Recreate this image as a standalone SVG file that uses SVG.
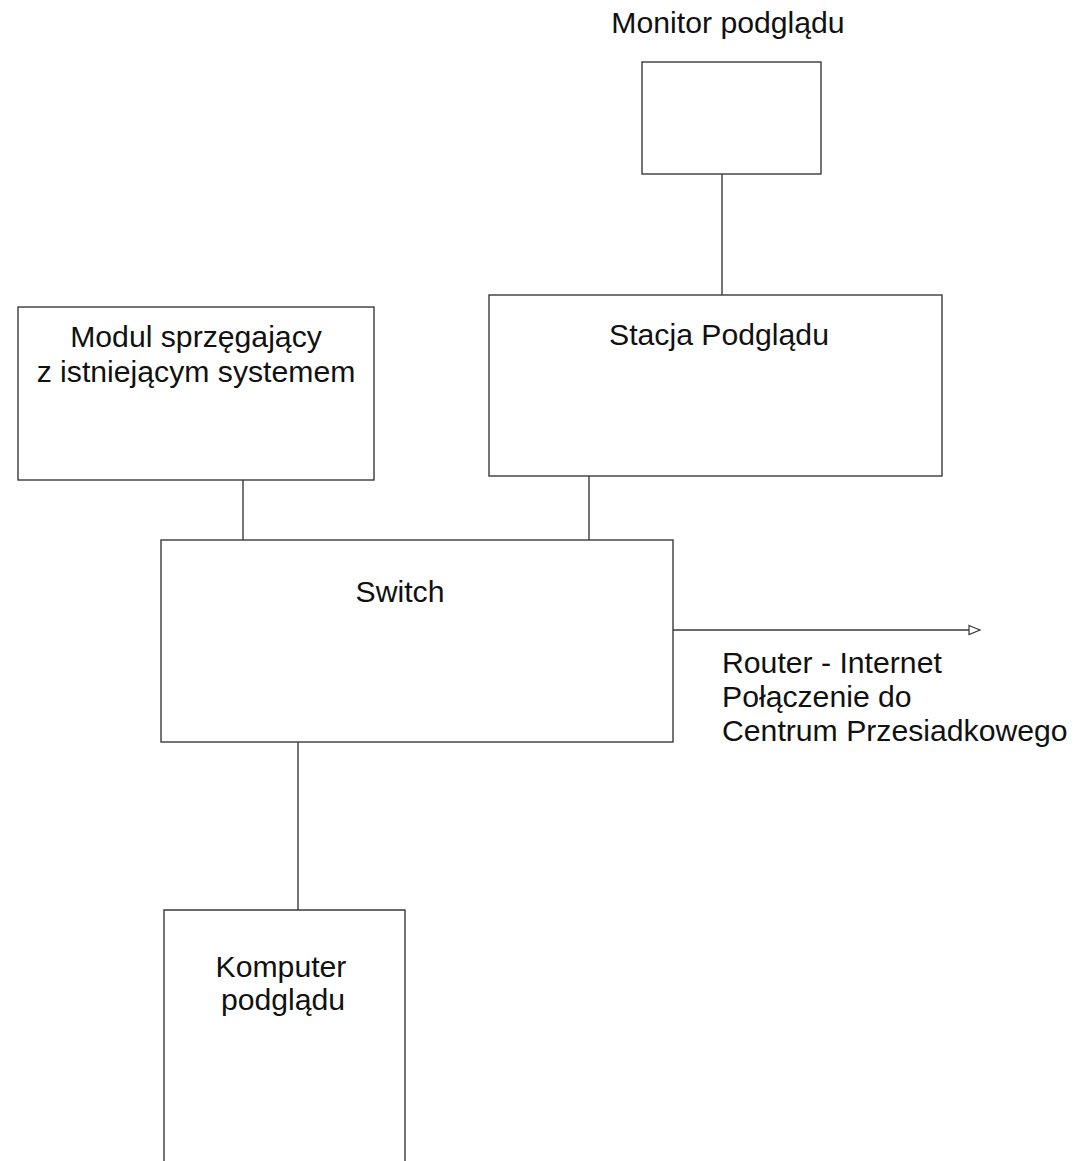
<svg xmlns="http://www.w3.org/2000/svg" width="1077" height="1161" viewBox="0 0 1077 1161">
<defs>
<style>
.box{fill:#fff;stroke:#3a3a3a;stroke-width:1.4}
.ln{fill:none;stroke:#3a3a3a;stroke-width:1.4}
text{font-family:"Liberation Sans",Arial,sans-serif;font-size:30.2px;fill:#111}
.c{text-anchor:middle}
</style>
<marker id="arr" markerWidth="14" markerHeight="12" refX="12" refY="6" orient="auto" markerUnits="userSpaceOnUse">
<path d="M1,1.5 L12,6 L1,10.5 Z" fill="#fff" stroke="#3a3a3a" stroke-width="1.2"/>
</marker>
</defs>
<rect width="1077" height="1161" fill="#fff"/>
<g id="connectors">
<line class="ln" x1="722" y1="174" x2="722" y2="295"/>
<line class="ln" x1="243" y1="480" x2="243" y2="540"/>
<line class="ln" x1="589" y1="476" x2="589" y2="540"/>
<line class="ln" x1="298" y1="742" x2="298" y2="910"/>
<line class="ln" x1="673" y1="630" x2="980" y2="630" marker-end="url(#arr)"/>
<text x="722" y="673">Router - Internet</text>
<text x="722" y="707">Połączenie do</text>
<text x="722" y="741">Centrum Przesiadkowego</text>
</g>
<g id="monitor">
<text class="c" x="728" y="33">Monitor podglądu</text>
<rect class="box" x="642" y="62" width="179" height="112"/>
</g>
<g id="stacja">
<rect class="box" x="489" y="295" width="453" height="181"/>
<text class="c" x="719" y="345">Stacja Podglądu</text>
</g>
<g id="modul">
<rect class="box" x="18" y="307" width="356" height="173"/>
<text class="c" x="196" y="347">Modul sprzęgający</text>
<text class="c" x="196" y="382">z istniejącym systemem</text>
</g>
<g id="switch">
<rect class="box" x="161" y="540" width="512" height="202"/>
<text class="c" x="400" y="602">Switch</text>
</g>
<g id="komputer">
<path class="ln" d="M164,1162 L164,910 L405,910 L405,1162"/>
<text class="c" x="281" y="977">Komputer</text>
<text class="c" x="283" y="1010">podglądu</text>
</g>
</svg>
